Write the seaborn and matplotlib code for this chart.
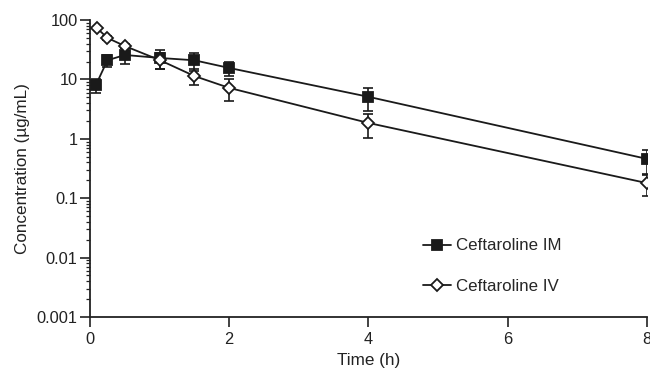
import numpy as np
import pandas as pd
import matplotlib
matplotlib.use("Agg")
import matplotlib.pyplot as plt
import seaborn as sns
from matplotlib.ticker import LogLocator, FuncFormatter, NullFormatter

# Mean concentrations (ug/mL) with SD
time_im = [0.083, 0.25, 0.5, 1.0, 1.5, 2.0, 4.0, 8.0]
conc_im = [8.0, 21.0, 25.8, 23.0, 21.0, 15.6, 5.1, 0.46]
sd_im = [2.0, 4.5, 7.5, 8.0, 7.0, 4.0, 2.2, 0.2]

time_iv = [0.1, 0.25, 0.5, 1.0, 1.5, 2.0, 4.0, 8.0]
conc_iv = [73.0, 50.0, 36.5, 21.2, 11.4, 7.2, 1.85, 0.18]
sd_iv = [3.0, 3.0, 3.0, 6.5, 3.3, 2.9, 0.8, 0.07]

labels = ["Ceftaroline IM", "Ceftaroline IV"]
x_ticks = [0, 2, 4, 6, 8]

sns.set_style("ticks")
plt.rcParams["font.family"] = ["Liberation Sans", "DejaVu Sans"]

df = pd.concat([
    pd.DataFrame({"Time": time_im, "Conc": conc_im, "SD": sd_im, "Group": labels[0]}),
    pd.DataFrame({"Time": time_iv, "Conc": conc_iv, "SD": sd_iv, "Group": labels[1]}),
])

fig = plt.figure(figsize=(6.5, 3.71), dpi=100)
ax = fig.add_axes([0.1385, 0.1456, 0.8565, 0.8004])

styles = {
    labels[0]: dict(marker="s", mfc="#1a1a1a", mec="#1a1a1a", ms=6.5),
    labels[1]: dict(marker="D", mfc="white", mec="#1a1a1a", ms=6.5),
}

for grp, sub in df.groupby("Group", sort=False):
    lo = sub["Conc"] - np.minimum(sub["SD"], sub["Conc"] * 0.95)
    ax.errorbar(sub["Time"], sub["Conc"], yerr=[sub["Conc"] - lo, sub["SD"]],
                fmt="none", ecolor="#1a1a1a", elinewidth=1.2, capsize=3.5,
                capthick=1.2, zorder=2)
    sns.lineplot(data=sub, x="Time", y="Conc", ax=ax, color="#1a1a1a",
                 lw=1.3, label=grp, zorder=3, markeredgewidth=1.3,
                 **styles[grp])

ax.set_yscale("log")
ax.set_ylim(0.001, 100)
ax.set_xlim(0, 8)
ax.set_xticks(x_ticks)
ax.yaxis.set_major_locator(LogLocator(base=10, numticks=10))
ax.yaxis.set_minor_locator(LogLocator(base=10, subs=np.arange(2, 10), numticks=10))
ax.yaxis.set_major_formatter(FuncFormatter(lambda v, p: f"{v:g}"))
ax.yaxis.set_minor_formatter(NullFormatter())

ax.set_xlabel("Time (h)", fontsize=12.3, labelpad=4, color="#222222")
ax.set_ylabel("Concentration (\u00b5g/mL)", fontsize=12.3, labelpad=5, color="#222222")
ax.tick_params(axis="both", which="major", labelsize=11.8, length=7, width=1.2,
               colors="#222222", pad=2)
ax.tick_params(axis="x", which="major", pad=4)
ax.tick_params(axis="y", which="minor", length=3, width=0.9, colors="#222222")

sns.despine(ax=ax)
for s in ["left", "bottom"]:
    ax.spines[s].set_linewidth(1.3)
    ax.spines[s].set_color("#222222")

ax.legend(loc="center left", bbox_to_anchor=(0.628, 0.1825, 0.3, 0.2),
          bbox_transform=fig.transFigure, frameon=False, fontsize=12.2,
          handlelength=1.6, handletextpad=0.3, labelspacing=1.5)

plt.savefig("out.png", dpi=100)
plt.close()
